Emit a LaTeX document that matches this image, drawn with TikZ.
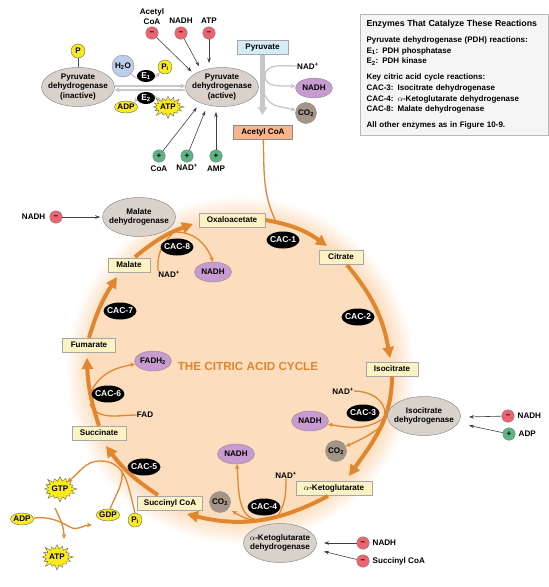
\documentclass[tikz,border=0pt]{standalone}
\usepackage{fontspec}
\setmainfont{Liberation Sans}
\usepackage{xcolor}
\usetikzlibrary{positioning, shapes, calc, arrows.meta}

\definecolor{ringorange}{HTML}{E0862F}
\definecolor{peach}{HTML}{FCDDBD}
\definecolor{enzgray}{HTML}{D8D2CA}
\definecolor{nadhpurple}{HTML}{C79AD0}
\definecolor{cotwo}{HTML}{A39689}
\definecolor{statefill}{HTML}{FCF2C4}
\definecolor{minusred}{HTML}{EC6470}
\definecolor{plusgreen}{HTML}{5DB583}
\definecolor{ballyellow}{HTML}{FBEB1A}
\definecolor{waterblue}{HTML}{BCCFEA}
\definecolor{pyrblue}{HTML}{D5ECF8}
\definecolor{acoaorange}{HTML}{F8B58B}
\pgfdeclareradialshading{ringglow}{\pgfpointorigin}{color(0bp)=(peach); color(21.3bp)=(peach); color(24.5bp)=(white); color(50bp)=(white)}

\tikzset{
  lbl/.style={font=\fontsize{8.1}{9.4}\selectfont\bfseries, align=center, inner sep=0pt},
  enzyme/.style={lbl, ellipse, draw=black!45, fill=enzgray, line width=0.5pt, inner xsep=-4.5pt, inner ysep=-0.5pt, minimum width=73, minimum height=39},
  stateb/.style={lbl, draw=black!35, fill=statefill, line width=0.5pt, minimum height=14},
  nadh/.style={lbl, ellipse, draw=black!45, fill=nadhpurple, line width=0.4pt, inner xsep=-1pt, minimum width=37, minimum height=20},
  cotwob/.style={lbl, circle, draw=black!45, fill=cotwo, line width=0.4pt, inner sep=-2pt, minimum size=21},
  cac/.style={lbl, ellipse, fill=black, text=white, font=\fontsize{8.5}{9}\selectfont\bfseries, inner xsep=-2.5pt, minimum width=33, minimum height=17},
  minus/.style={lbl, circle, draw=black!50, fill=minusred, line width=0.4pt, minimum size=12.5},
  plus/.style={lbl, circle, draw=black!50, fill=plusgreen, line width=0.4pt, minimum size=12.5},
  ball/.style={lbl, ellipse, draw=black!60, fill=ballyellow, line width=0.4pt, inner xsep=-0.5pt, minimum width=23, minimum height=12},
  burst/.style={lbl, starburst, starburst points=16, starburst point height=6pt, draw=black!60, fill=ballyellow, line width=0.4pt, minimum width=34pt, minimum height=28pt},
  ringarrow/.style={ringorange, line width=4, -{Triangle[length=11,width=11]}},
  sidearrow/.style={ringorange, line width=1.3, -{Stealth[length=5,width=4.5]}},
  sideline/.style={ringorange, line width=1.3},
  reg/.style={black!75, line width=0.6, -{Stealth[length=5,width=3.5]}, shorten >=2},
  grayarrow/.style={black!22, line width=1.3, -{Stealth[length=5,width=5]}},
}

\begin{document}
\begin{tikzpicture}[x=1pt, y=-1pt]
  \useasboundingbox (0,0) rectangle (549,587);

  % glow behind the cycle
  \shade[shading=ringglow] (240,370) circle (178);

  % top left, pyruvate dehydrogenase
  \node[enzyme] (pdhin) at (78,87) {Pyruvate\\dehydrogenase\\(inactive)};
  \node[enzyme] (pdhac) at (222,87) {Pyruvate\\dehydrogenase\\(active)};
  \node[ball, minimum width=14, minimum height=14] (phos) at (78,51) {P};
  \draw[black!70, line width=0.6] (phos) -- (pdhin);
  \node[lbl, circle, draw=black!45, fill=waterblue, inner sep=-2pt, minimum size=22] (water) at (123,66) {H\textsubscript{2}O};
  \node[ball, minimum width=14, minimum height=14] (pione) at (165,67) {P\textsubscript{i}};
  \node[ball] (adpone) at (126,107) {ADP};
  \node[burst, minimum width=31pt, minimum height=25pt] (atpone) at (168,107) {ATP};
  \draw[grayarrow] (pdhac.west |- 0,90) -- (pdhin.east |- 0,90);
  \draw[grayarrow] (pdhin.east |- 0,86) -- (pdhac.west |- 0,86);
  \draw[grayarrow] (water.south east) to[bend right=50] (pione.south west);
  \draw[grayarrow] (atpone.north west) to[bend right=50] (adpone.north east);
  \node[cac, minimum width=18, minimum height=12] (eone) at (146,76) {E\textsubscript{1}};
  \node[cac, minimum width=18, minimum height=12] (etwo) at (146,98) {E\textsubscript{2}};

  \node[minus] (mone) at (152,33) {–};
  \node[minus] (mtwo) at (181,33) {–};
  \node[minus] (mthree) at (209,33) {–};
  \node[lbl, above=2pt of mone] {Acetyl\\CoA};
  \node[lbl, above=3pt of mtwo] {NADH};
  \node[lbl, above=3pt of mthree] {ATP};
  \draw[reg] (mone) -- (193,73);
  \draw[reg] (mtwo) -- (200,68);
  \draw[reg] (mthree) -- (209,65);
  \node[plus] (pone) at (159,156) {+};
  \node[plus] (ptwo) at (187,156) {+};
  \node[plus] (pthree) at (216,156) {+};
  \node[lbl, below=3pt of pone] {CoA};
  \node[lbl, below=2pt of ptwo] {NAD\textsuperscript{+}};
  \node[lbl, below=3pt of pthree] {AMP};
  \draw[reg] (pone) -- (198,106);
  \draw[reg] (ptwo) -- (206,109);
  \draw[reg] (pthree) -- (216,110);

  % pyruvate to acetyl coa
  \node[lbl, draw=black!35, fill=pyrblue, minimum width=51, minimum height=14] (pyr) at (262.5,47.5) {Pyruvate};
  \node[lbl, draw=black!45, fill=acoaorange, minimum width=59, minimum height=14] (acoa) at (263,132) {Acetyl CoA};
  \node[lbl, anchor=west] (nadplus) at (297,66) {NAD\textsuperscript{+}};
  \node[nadh] (nadhtop) at (314,88) {NADH};
  \node[cotwob] (cotop) at (306,113) {CO\textsubscript{2}};
  \draw[black!22, line width=1.3] (nadplus) to[out=180, in=90] (265,76);
  \draw[grayarrow] (265,76) to[out=-90, in=175] (nadhtop);
  \draw[grayarrow] (265,95) to[out=-70, in=165] (cotop);
  \draw[black!22, line width=4.5, -{Triangle[length=8,width=9]}] (pyr) -- (262.5,115);

  % the key
  \node[lbl, draw=black!28, fill=black!4, line width=1, anchor=north west, align=left, text width=176, inner sep=6,
    font=\fontsize{8}{10.7}\selectfont\bfseries] (key) at (360,14) {%
    {\fontsize{8.8}{10}\selectfont Enzymes That Catalyze These Reactions}\\[5pt]
    Pyruvate dehydrogenase (PDH) reactions:\\
    E\textsubscript{1}: PDH phosphatase\\
    E\textsubscript{2}: PDH kinase\\[5pt]
    Key citric acid cycle reactions:\\
    CAC-3: Isocitrate dehydrogenase\\
    CAC-4: $\alpha$-Ketoglutarate dehydrogenase\\
    CAC-8: Malate dehydrogenase\\[5pt]
    All other enzymes as in Figure 10-9.};

  % cycle intermediates
  \node[stateb, minimum width=66] (oxalo) at (232,220) {Oxaloacetate};
  \node[stateb, minimum width=44] (citrate) at (341,257) {Citrate};
  \node[stateb, minimum width=52] (isocit) at (392,369) {Isocitrate};
  \node[stateb, minimum width=76] (aketo) at (334,488) {$\alpha$-Ketoglutarate};
  \node[stateb, minimum width=65] (succoa) at (170,503) {Succinyl CoA};
  \node[stateb, minimum width=54] (succ) at (99,433) {Succinate};
  \node[stateb, minimum width=53] (fum) at (89,345) {Fumarate};
  \node[stateb, minimum width=42] (mal) at (129,265) {Malate};

  % the cycle
  \draw[ringorange, line width=1.3] (acoa) to[out=-88, in=115] (276,222);
  \draw[ringarrow] (oxalo.east) to[bend left=13] (327,246);
  \draw[ringarrow] (347,265) to[bend left=15] (390,358);
  \draw[ringarrow] (isocit.south) to[out=-90, in=55] (349,476);
  \draw[ringarrow] (328,496) to[out=208, in=-14] (187,514);
  \draw[ringarrow] (158,495) to[bend left=10] (106,446);
  \draw[ringarrow] (succ.north) to[bend left=8] (87,358);
  \draw[ringarrow] (fum.north) to[bend left=8] (117,277);
  \draw[ringarrow] (135,257) to[bend left=10] (193,224);

  \node[lbl, text=ringorange, font=\fontsize{11.7}{13}\selectfont\bfseries] (title) at (248,366) {THE CITRIC ACID CYCLE};

  % cac-8
  \node[nadh] (nadheight) at (213,272) {NADH};
  \node[lbl] (nadeight) at (169,274) {NAD\textsuperscript{+}};
  \draw[sideline] (nadeight.north west) to[out=95, in=-135] (172,234);
  \draw[sidearrow] (176,232) to[out=0, in=110] (nadheight.north);
  % cac-6
  \node[nadh] (fadh) at (153,361) {FADH\textsubscript{2}};
  \node[lbl] (fad) at (145,415) {FAD};
  \draw[sidearrow] (91,392) to[out=65, in=190] (fadh);
  \draw[sideline] (fad) to[out=180, in=-65] (90,404);
  % cac-3
  \node[lbl] (nadthree) at (343,391) {NAD\textsuperscript{+}};
  \node[nadh] (nadhthree) at (310,421) {NADH};
  \node[cotwob] (cothree) at (336,451) {CO\textsubscript{2}};
  \draw[sideline] (nadthree) to[out=0, in=90] (385,414);
  \draw[sidearrow] (384,418) to[out=215, in=-10] (nadhthree);
  \draw[sidearrow] (384,424) to[out=220, in=25] (cothree);
  % cac-4
  \node[lbl] (nadfour) at (286,475) {NAD\textsuperscript{+}};
  \node[nadh] (nadhfour) at (236,454) {NADH};
  \node[cotwob] (cofour) at (220,502) {CO\textsubscript{2}};
  \draw[sideline] (nadfour) to[out=-90, in=60] (278,516);
  \draw[sidearrow] (260,520) to[out=180, in=-85] (nadhfour);
  \draw[sidearrow] (258,521) to[out=175, in=-30] (232,511);
  % cac-5
  \node[burst] (gtp) at (60,489) {GTP};
  \node[burst] (atptwo) at (57,557) {ATP};
  \node[ball] (gdp) at (108,515) {GDP};
  \node[ball, minimum width=14, minimum height=14] (pitwo) at (135,520) {P\textsubscript{i}};
  \node[ball] (adptwo) at (22,519) {ADP};
  \draw[sidearrow] (pitwo.north) to[out=105, in=0, looseness=1.1] (100,461) to[out=180, in=35] (gtp.north east);
  \draw[sideline] (gdp) to[out=70, in=-85] (122,470);
  \draw[sidearrow] (adptwo) to[out=5, in=150] (70,527) to[out=-30, in=180] (92,525);
  \draw[sidearrow] (55,508) to[out=-65, in=90] (64,539);

  % cac enzymes on top of their side lines
  \node[cac] (cacone) at (283,240) {CAC-1};
  \node[cac] (cactwo) at (358,317) {CAC-2};
  \node[cac] (cacthree) at (363,413) {CAC-3};
  \node[cac] (cacfour) at (264,507) {CAC-4};
  \node[cac] (cacfive) at (144,467) {CAC-5};
  \node[cac] (cacsix) at (108,394) {CAC-6};
  \node[cac] (cacseven) at (120,311) {CAC-7};
  \node[cac] (caceight) at (177,247) {CAC-8};

  % enzymes of the cycle
  \node[enzyme] (maldh) at (139,217) {Malate\\dehydrogenase};
  \node[enzyme] (isodh) at (424,416) {Isocitrate\\dehydrogenase};
  \node[enzyme] (ketodh) at (280,543) {$\alpha$-Ketoglutarate\\dehydrogenase};
  \node[minus] (mfour) at (56,217) {–};
  \node[lbl, left=4pt of mfour] {NADH};
  \draw[reg] (mfour) -- (maldh);
  \node[minus] (mfive) at (508,416) {–};
  \node[lbl, right=3pt of mfive] {NADH};
  \node[plus] (pfour) at (509,434) {+};
  \node[lbl, right=3pt of pfour] {ADP};
  \draw[reg] (mfive) -- (467,417);
  \draw[reg] (pfour) -- (467,425);
  \node[minus] (msix) at (363,543) {–};
  \node[lbl, right=3pt of msix] {NADH};
  \node[minus] (mseven) at (363,561) {–};
  \node[lbl, right=3pt of mseven] {Succinyl CoA};
  \draw[reg] (msix) -- (322,543);
  \draw[reg] (mseven) -- (322,551);
\end{tikzpicture}
\end{document}
